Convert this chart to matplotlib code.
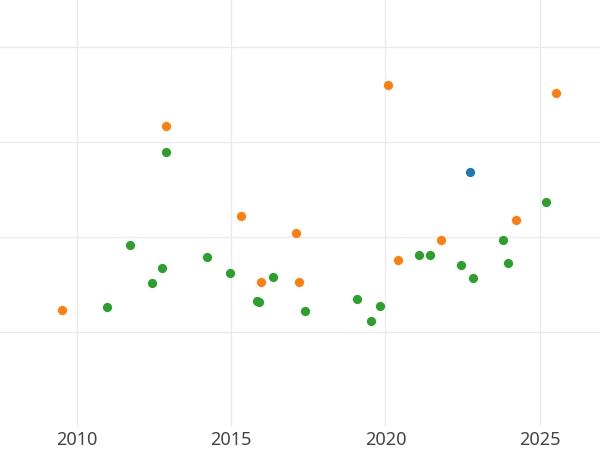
import matplotlib
matplotlib.use("Agg")
import matplotlib.pyplot as plt

orange_x = [2009.52, 2012.90, 2015.32, 2015.96, 2017.09, 2017.20, 2020.07, 2020.41, 2021.80, 2024.23, 2025.53]
orange_y = [1.23, 3.17, 2.22, 1.53, 2.04, 1.53, 3.60, 1.76, 1.97, 2.18, 3.52]

blue_x = [2022.75]
blue_y = [2.68]

green_x = [2010.97, 2011.71, 2012.42, 2012.75, 2012.90, 2014.23, 2014.97, 2015.84, 2015.89,
           2016.37, 2017.40, 2019.08, 2019.54, 2019.82, 2021.10, 2021.43, 2022.44, 2022.82,
           2023.82, 2023.96, 2025.21]
green_y = [1.26, 1.92, 1.52, 1.67, 2.90, 1.79, 1.62, 1.33, 1.32, 1.58, 1.22, 1.35, 1.12,
           1.27, 1.81, 1.81, 1.71, 1.57, 1.97, 1.73, 2.37]

xticks = [2010, 2015, 2020, 2025]

fig = plt.figure(figsize=(6, 4.5), dpi=100)
ax = fig.add_axes([0, 23 / 450, 1, 427 / 450])
ax.scatter(orange_x, orange_y, s=44, color="#ff7f0e", linewidths=0, zorder=3)
ax.scatter(green_x, green_y, s=44, color="#2ca02c", linewidths=0, zorder=3)
ax.scatter(blue_x, blue_y, s=44, color="#1f77b4", linewidths=0, zorder=3)

ax.set_xlim(2007.51, 2026.95)
ax.set_ylim(0, 4.495)
ax.set_xticks(xticks)
ax.set_xticklabels([str(t) for t in xticks], fontsize=13, color="#444444", family="Noto Sans")
ax.set_yticks([1, 2, 3, 4])
ax.set_yticklabels([])
ax.tick_params(axis="both", length=0, pad=3)
ax.grid(True, color="#ebebeb", linewidth=1)
ax.set_axisbelow(True)
for s in ax.spines.values():
    s.set_visible(False)

fig.savefig("out.png", dpi=100)
